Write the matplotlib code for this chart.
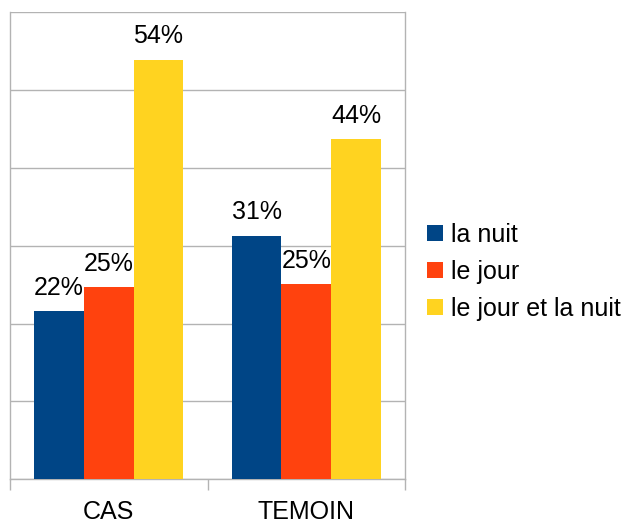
import matplotlib
matplotlib.use("Agg")
import matplotlib.pyplot as plt
import numpy as np
from matplotlib.patches import Patch

categories = ["CAS", "TEMOIN"]
series_names = ["la nuit", "le jour", "le jour et la nuit"]
la_nuit = [0.216, 0.313]
le_jour = [0.247, 0.251]
jour_et_nuit = [0.539, 0.437]
labels = [["22%", "31%"], ["25%", "25%"], ["54%", "44%"]]
colors = ["#004586", "#ff420e", "#ffd320"]

plt.rcParams['font.family'] = ['Liberation Sans', 'DejaVu Sans']

W, H = 631, 524
fig = plt.figure(figsize=(W / 100, H / 100), dpi=100)
left, right, top, bottom = 10, 405, 12, 479.3
ax = fig.add_axes([left / W, 1 - bottom / H, (right - left) / W, (bottom - top) / H])

x = np.arange(len(categories))
bw = 0.2517
data = [la_nuit, le_jour, jour_et_nuit]
for i, (vals, col) in enumerate(zip(data, colors)):
    pos = x + (i - 1) * bw
    ax.bar(pos, vals, width=bw, color=col, zorder=3, label=series_names[i])
    for p, v, lab in zip(pos, vals, labels[i]):
        ax.annotate(lab, (p, v), xytext=(0, 8), textcoords="offset points",
                    ha="center", va="bottom", fontsize=18, color="black", zorder=4)

ax.set_xlim(-0.5, 1.5)
ax.set_ylim(0, 0.6)
ax.set_yticks(np.arange(0, 0.61, 0.1))
ax.yaxis.grid(True, color="#b3b3b3", linewidth=1, zorder=0)
ax.tick_params(axis="y", length=0, labelleft=False)
ax.set_xticks(x)
ax.set_xticklabels(categories, fontsize=18)
ax.tick_params(axis="x", which="major", length=0, pad=15)
ax.set_xticks([-0.5, 0.5, 1.5], minor=True)
ax.tick_params(axis="x", which="minor", length=8, color="#b3b3b3", width=1)
for s in ["top"]:
    ax.spines[s].set_visible(False)
for s in ["left", "right", "bottom"]:
    ax.spines[s].set_color("#b3b3b3")
    ax.spines[s].set_linewidth(1)

handles = [Patch(facecolor=c, edgecolor="none") for c in colors]
fig.legend(handles, series_names, loc="center left",
           bbox_to_anchor=(427 / W, 1 - 272 / H), frameon=False, fontsize=18,
           handlelength=0.64, handleheight=0.64, handletextpad=0.32,
           labelspacing=0.52, borderaxespad=0, borderpad=0)

fig.savefig("out.png", dpi=100)
